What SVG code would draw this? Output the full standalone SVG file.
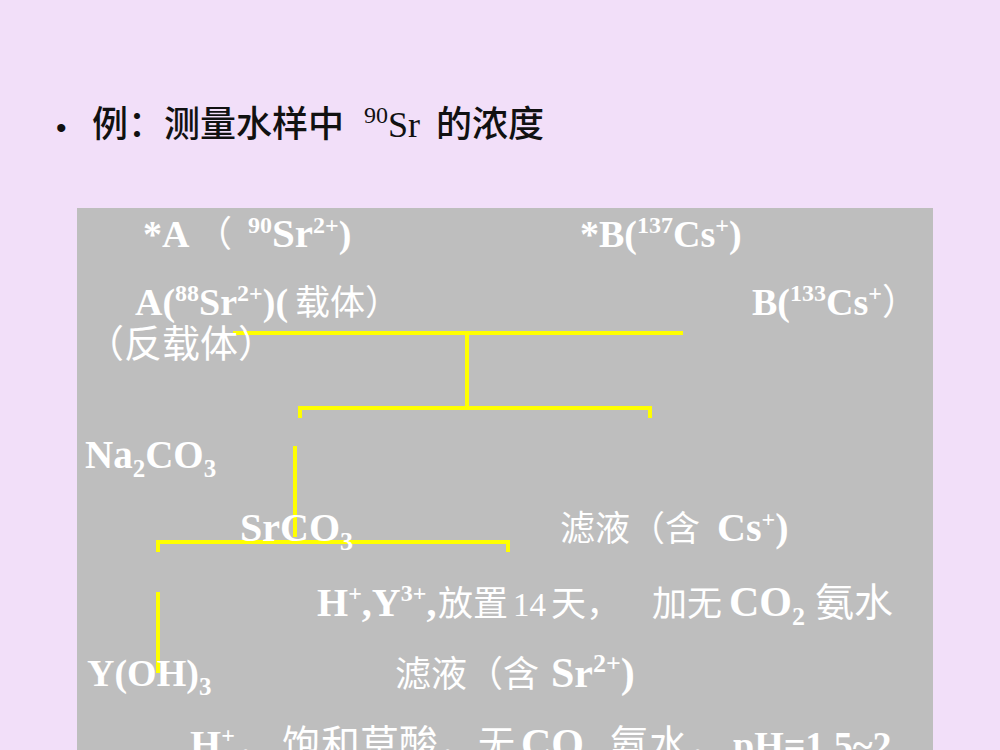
<svg xmlns="http://www.w3.org/2000/svg" width="1000" height="750" viewBox="0 0 1000 750">
<style>
.bg{fill:#F2DFF9}
.box{fill:#BEBEBE}
.title{font-family:"Liberation Serif","Noto Sans CJK SC",serif;font-size:36px;fill:#111111}
.tc{font-family:"Noto Sans CJK SC",sans-serif;font-weight:500;font-size:36px}
.t{font-family:"Liberation Serif","Noto Sans CJK SC",serif;font-weight:bold;font-size:38px;fill:#ffffff}
.c{font-family:"Noto Sans CJK SC",sans-serif;font-weight:normal}
.n{font-weight:normal}
.s{font-size:24px}
.ln{fill:none;stroke:#FFFF00;stroke-width:4}
</style>
<rect class="bg" x="0" y="0" width="1000" height="750"/>
<g id="title">
<text x="56" y="138" style="font-family:'Liberation Sans',sans-serif;font-size:30px;fill:#111111">•</text>
<text class="title" x="92" y="137"><tspan class="tc">例：测量水样中 </tspan><tspan class="s" x="364" dy="-14">90</tspan><tspan dy="14">Sr </tspan><tspan class="tc" x="436">的浓度</tspan></text>
</g>
<rect id="panel" class="box" x="77" y="208" width="856" height="542"/>
<g id="connectors">
<path class="ln" d="M233 333 H683"/>
<path class="ln" d="M467 333 V408"/>
<path class="ln" d="M300 418 V408 H650 V418"/>
<path class="ln" d="M295 446 V537"/>
<path class="ln" d="M158 552 V542 H508 V552"/>
<path class="ln" d="M158 592 V673"/>
</g>
<g id="node-A-star"><text class="t" y="247"><tspan x="143">*A </tspan><tspan class="c" x="196" style="font-size:36px">（ </tspan><tspan class="s" x="248" dy="-14">90</tspan><tspan dy="14" style="font-size:41px">Sr</tspan><tspan class="s" dy="-14">2+</tspan><tspan dy="14">)</tspan></text></g>
<g id="node-B-star"><text class="t" x="580" y="247">*B(<tspan class="s" dy="-14">137</tspan><tspan dy="14">Cs</tspan><tspan class="s" dy="-14">+</tspan><tspan dy="14">)</tspan></text></g>
<g id="node-A-carrier"><text class="t" x="135" y="315">A(<tspan class="s" dy="-14">88</tspan><tspan dy="14">Sr</tspan><tspan class="s" dy="-14">2+</tspan><tspan dy="14">)( </tspan><tspan class="c" x="295" style="font-size:35px">载体）</tspan></text></g>
<g id="node-B-carrier"><text class="t" x="752" y="315">B(<tspan class="s" dy="-14">133</tspan><tspan dy="14">Cs</tspan><tspan class="s" dy="-14">+</tspan><tspan dy="14" x="882" class="c" style="font-size:36px">）</tspan></text></g>
<g id="node-anti"><text class="t" x="86" y="357"><tspan class="c">（反载体）</tspan></text></g>
<g id="node-na2co3"><text class="t" x="85" y="468" style="font-size:39px">Na<tspan class="s" dy="9" style="font-size:25px">2</tspan><tspan dy="-9">CO</tspan><tspan class="s" dy="9" style="font-size:25px">3</tspan></text></g>
<g id="node-srco3"><text class="t" x="240" y="541" style="font-size:40px">SrCO<tspan class="s" dy="9" style="font-size:26px">3</tspan></text></g>
<g id="node-filtrate-cs"><text class="t" y="541"><tspan class="c" x="560" style="font-size:35px">滤液（含 </tspan><tspan x="717" style="font-size:40px">Cs</tspan><tspan class="s" dy="-14">+</tspan><tspan dy="14" style="font-size:40px">)</tspan></text></g>
<g id="step-1"><text class="t" y="616" style="font-size:40px"><tspan x="317">H</tspan><tspan class="s" dy="-15">+</tspan><tspan dy="15">,Y</tspan><tspan class="s" dy="-15">3+</tspan><tspan dy="15">, </tspan><tspan class="c" x="438" style="font-size:35px">放置 </tspan><tspan class="n" x="513" style="font-size:33px">14 </tspan><tspan class="c" x="551" style="font-size:35px">天，</tspan><tspan class="c" x="652" style="font-size:35px">加无 </tspan><tspan x="729" style="font-size:42px">CO</tspan><tspan class="s" dy="9" style="font-size:26px">2</tspan><tspan dy="-9"> </tspan><tspan class="c" x="815" style="font-size:39px">氨水</tspan></text></g>
<g id="node-yoh3"><text class="t" x="87" y="686">Y(OH)<tspan class="s" dy="9" style="font-size:25px">3</tspan></text></g>
<g id="node-filtrate-sr"><text class="t" y="687"><tspan class="c" x="395" style="font-size:36px">滤液（含 </tspan><tspan x="551" style="font-size:42px">Sr</tspan><tspan class="s" dy="-15" style="font-size:26px">2+</tspan><tspan dy="15" style="font-size:42px">)</tspan></text></g>
<g id="step-2"><text class="t" y="758" style="font-size:40px"><tspan x="190">H</tspan><tspan class="s" dy="-15">+</tspan><tspan dy="15" class="c" x="236" style="font-size:39px">，</tspan><tspan class="c" x="282" style="font-size:39px">饱和草酸，</tspan><tspan class="c" x="478" style="font-size:37px">无 </tspan><tspan x="521" style="font-size:42px">CO</tspan><tspan class="s" dy="9" style="font-size:26px">2</tspan><tspan dy="-9"> </tspan><tspan class="c" x="610" style="font-size:39px">氨水，</tspan><tspan x="733" style="font-size:38px">pH=1.5~2</tspan></text></g>
</svg>
